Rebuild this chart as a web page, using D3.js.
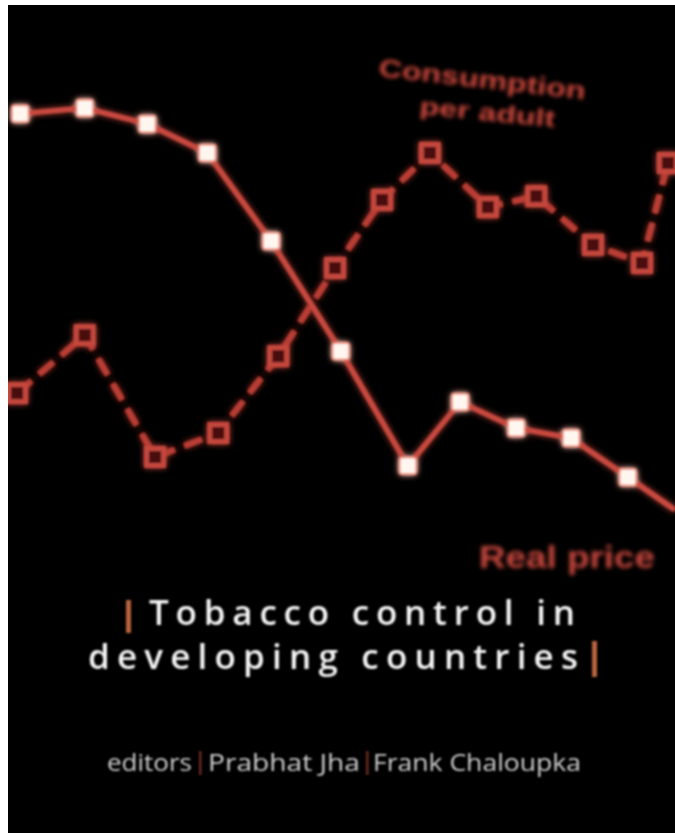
<!DOCTYPE html>
<html>
<head>
<meta charset="utf-8">
<script src="https://cdn.jsdelivr.net/npm/d3@7"></script>
<style>
  body { margin: 0; background: #fff; }
  svg { display: block; }
</style>
</head>
<body>
<svg id="cover" width="675" height="833"></svg>
<script>
// values (arbitrary units, x = period, y = index)
var pricePeriod = [0.19, 1.19, 2.16, 3.09, 4.08, 5.16, 6.2, 7.01, 7.88, 8.73, 9.61, 10.34];
var priceIndex = [96.7, 98.1, 94.3, 87.4, 66.4, 40.2, 12.9, 28.1, 21.9, 19.5, 10.2, 2.4];
var consPeriod = [0.14, 1.19, 2.28, 3.26, 4.19, 5.07, 5.8, 6.54, 7.44, 8.19, 9.07, 9.83, 10.23];
var consIndex = [30.2, 44.0, 15.0, 20.7, 39.0, 60.0, 76.2, 87.4, 74.5, 77.1, 65.5, 61.2, 85.0];

var labels = ['Consumption', 'per adult', 'Real price'];
var titleLines = ['Tobacco control in', 'developing countries'];
var editors = ['editors', 'Prabhat Jha', 'Frank Chaloupka'];

var W = 675, H = 833;
var svg = d3.select('#cover');

var priceData = pricePeriod.map((p, i) => ({ x: p, y: priceIndex[i] }));
var consData = consPeriod.map((p, i) => ({ x: p, y: consIndex[i] }));

var x = d3.scaleLinear().domain([0, 10]).range([8, 653]);
var y = d3.scaleLinear().domain([0, 100]).range([520, 100]);

var defs = svg.append('defs');

function blurFilter(id, sd) {
  defs.append('filter').attr('id', id)
    .attr('x', '-20%').attr('y', '-50%').attr('width', '140%').attr('height', '200%')
    .append('feGaussianBlur').attr('stdDeviation', sd);
}
blurFilter('soft', 0.8);
blurFilter('blurLabel', 2.0);

// glow for the lines and markers (soft copy under a slightly blurred copy)
var glow = defs.append('filter').attr('id', 'glow')
  .attr('x', '-20%').attr('y', '-20%').attr('width', '140%').attr('height', '140%');
glow.append('feGaussianBlur').attr('in', 'SourceGraphic').attr('stdDeviation', 3).attr('result', 'b');
glow.append('feGaussianBlur').attr('in', 'SourceGraphic').attr('stdDeviation', 0.9).attr('result', 's');
var merge = glow.append('feMerge');
merge.append('feMergeNode').attr('in', 'b');
merge.append('feMergeNode').attr('in', 's');

defs.append('clipPath').attr('id', 'clip')
  .append('rect').attr('x', 8).attr('y', 5).attr('width', W - 8).attr('height', H - 5);

// white paper edge + black cover
svg.append('rect').attr('width', W).attr('height', H).attr('fill', '#fff');
svg.append('rect').attr('x', 8).attr('y', 5).attr('width', W - 8).attr('height', H - 5).attr('fill', '#000');

var chart = svg.append('g').attr('clip-path', 'url(#clip)');

var line = d3.line().x(d => x(d.x)).y(d => y(d.y));

// consumption per adult: dashed line, hollow squares
var consG = chart.append('g').attr('filter', 'url(#glow)');
consG.append('path')
  .datum(consData)
  .attr('d', line)
  .attr('fill', 'none')
  .attr('stroke', '#b83c34')
  .attr('stroke-width', 6)
  .attr('stroke-dasharray', '19 10');

consG.selectAll('rect')
  .data(consData)
  .enter()
  .append('rect')
  .attr('x', d => x(d.x) - 8.5)
  .attr('y', d => y(d.y) - 8.5)
  .attr('width', 17)
  .attr('height', 17)
  .attr('fill', '#4a0c08')
  .attr('stroke', '#c4463c')
  .attr('stroke-width', 5);

// real price: solid line, white squares
var priceG = chart.append('g').attr('filter', 'url(#glow)');
priceG.append('path')
  .datum(priceData)
  .attr('d', line)
  .attr('fill', 'none')
  .attr('stroke', '#c84a40')
  .attr('stroke-width', 5);

priceG.selectAll('rect')
  .data(priceData.slice(0, -1))
  .enter()
  .append('rect')
  .attr('x', d => x(d.x) - 8.5)
  .attr('y', d => y(d.y) - 8.5)
  .attr('width', 17)
  .attr('height', 17)
  .attr('rx', 3)
  .attr('fill', '#fff6f0')
  .attr('stroke', '#e8806c')
  .attr('stroke-width', 2);

// series labels
var lab = svg.append('g').attr('filter', 'url(#blurLabel)')
  .attr('font-family', 'Liberation Sans, Arial, sans-serif')
  .attr('font-weight', 'bold')
  .attr('fill', '#d0483e');

lab.append('text')
  .attr('transform', 'translate(378,76) rotate(6.5)')
  .attr('font-size', 25)
  .attr('textLength', 208)
  .attr('lengthAdjust', 'spacingAndGlyphs')
  .text(labels[0]);

lab.append('text')
  .attr('transform', 'translate(419,114) rotate(5.5)')
  .attr('font-size', 24)
  .attr('textLength', 136)
  .attr('lengthAdjust', 'spacingAndGlyphs')
  .text(labels[1]);

lab.append('text')
  .attr('x', 479)
  .attr('y', 568)
  .attr('font-size', 32)
  .attr('fill', '#c8463c')
  .attr('textLength', 176)
  .attr('lengthAdjust', 'spacingAndGlyphs')
  .text(labels[2]);

// title
var title = svg.append('g').attr('filter', 'url(#soft)')
  .attr('font-family', 'Open Sans, DejaVu Sans, sans-serif')
  .attr('font-weight', 600)
  .attr('font-size', 35)
  .attr('fill', '#f4f4f4');

title.append('text')
  .attr('x', 149).attr('y', 625)
  .attr('textLength', 426).attr('lengthAdjust', 'spacing')
  .text(titleLines[0]);
title.append('text')
  .attr('x', 88).attr('y', 669)
  .attr('textLength', 490).attr('lengthAdjust', 'spacing')
  .text(titleLines[1]);

title.append('rect').attr('x', 126).attr('y', 600).attr('width', 5).attr('height', 33).attr('fill', '#b8643c');
title.append('rect').attr('x', 592).attr('y', 641).attr('width', 5).attr('height', 36).attr('fill', '#b8643c');

// editors line
var ed = svg.append('g').attr('filter', 'url(#soft)')
  .attr('font-family', 'Open Sans, DejaVu Sans, sans-serif')
  .attr('font-size', 24)
  .attr('fill', '#cfcfcf');

var edX = [107, 208, 373];
var edLen = [85, 152, 208];
editors.forEach(function(t, i) {
  ed.append('text')
    .attr('x', edX[i]).attr('y', 771)
    .attr('textLength', edLen[i]).attr('lengthAdjust', 'spacingAndGlyphs')
    .text(t);
});
[199, 366].forEach(function(bx) {
  ed.append('rect').attr('x', bx).attr('y', 751).attr('width', 2.5).attr('height', 24).attr('fill', '#6a2a24');
});
</script>
</body>
</html>
